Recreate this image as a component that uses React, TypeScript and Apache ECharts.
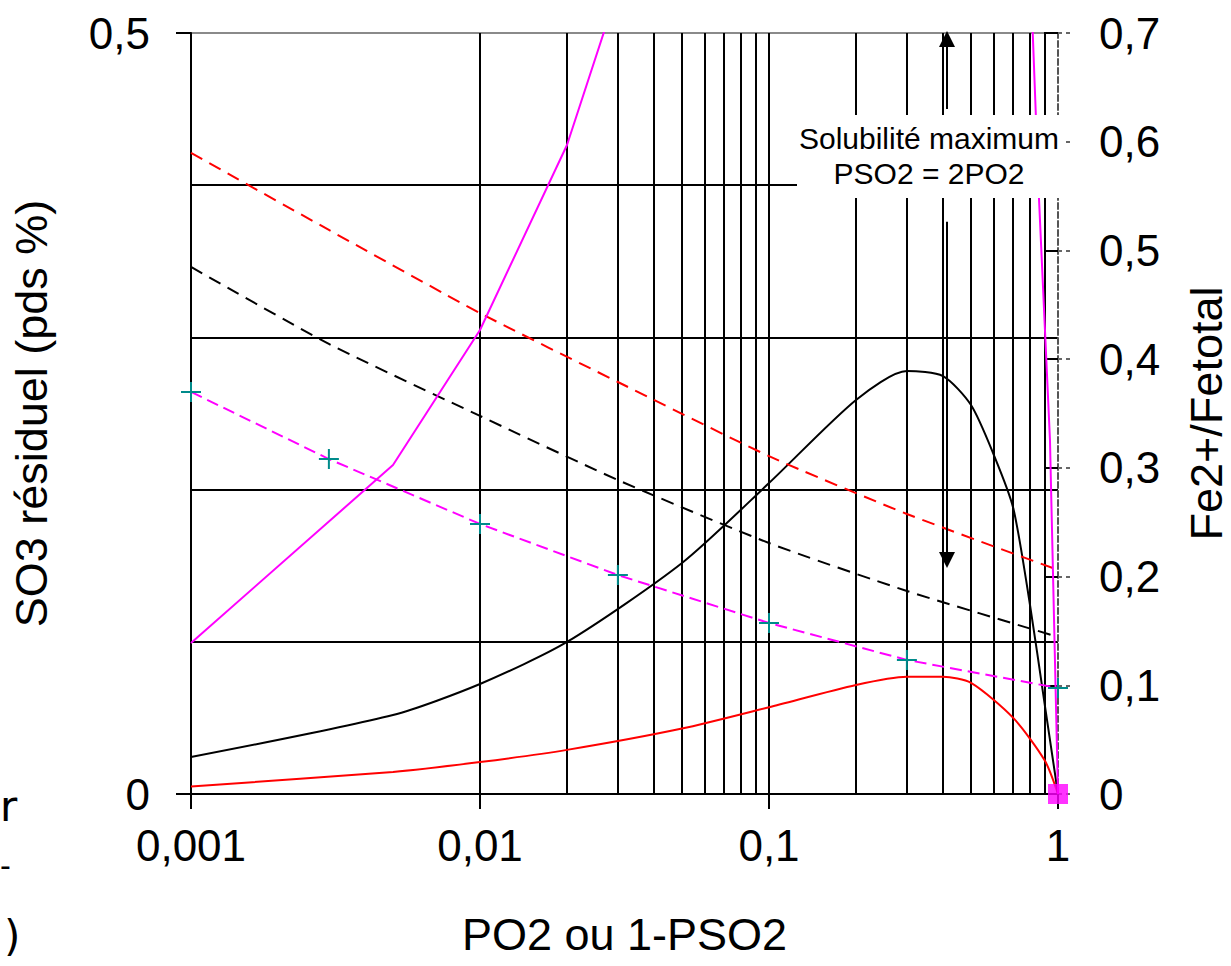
import React, { useEffect, useRef } from "react";
import * as echarts from "echarts";

const FONT = '"Liberation Sans", Arial, Helvetica, sans-serif';

// x tick labels (log axis 0.001 .. 1)
const xTickLabels = ["0,001", "0,01", "0,1", "1"];

// vertical grid lines of the log x axis
const xGridLines = [
  0.002, 0.003, 0.004, 0.005, 0.006, 0.007, 0.008, 0.009,
  0.01, 0.02, 0.03, 0.04, 0.05, 0.06, 0.07, 0.08, 0.09,
  0.1, 0.2, 0.3, 0.4, 0.5, 0.6, 0.7, 0.8, 0.9,
];

// SO3 residual (left axis) - solid red
const redSolidX = [0.001, 0.005, 0.01, 0.02, 0.05, 0.1, 0.2, 0.3, 0.4, 0.5, 0.7, 0.9, 1];
const redSolidY = [0.005, 0.0145, 0.021, 0.029, 0.043, 0.057, 0.0716, 0.077, 0.077, 0.073, 0.05, 0.022, 0];

// SO3 residual (left axis) - solid black
const blackSolidX = [0.001, 0.005, 0.01, 0.02, 0.05, 0.1, 0.2, 0.3, 0.4, 0.5, 0.6, 0.7, 0.8, 0.9, 1];
const blackSolidY = [0.0243, 0.0519, 0.0723, 0.0999, 0.1518, 0.2043, 0.2589, 0.2779, 0.2746, 0.2556, 0.2227, 0.1879, 0.1242, 0.0585, 0];

// dashed curves (left axis)
const dashX = [0.001, 0.003, 0.01, 0.03, 0.1, 0.3, 1];
const redDashY = [0.4212, 0.3706, 0.316, 0.2707, 0.222, 0.184, 0.1472];
const blackDashY = [0.3463, 0.2957, 0.2484, 0.2063, 0.1649, 0.1334, 0.1032];

// Fe2+/Fetotal (right axis)
const magentaDashY = [0.3698, 0.3081, 0.2484, 0.2014, 0.1573, 0.1233, 0.0975];
const magentaSolidX = [0.001, 0.005, 0.01, 0.02, 0.03];
const magentaSolidY = [0.1389, 0.3026, 0.4268, 0.597, 0.74];
const magentaEndX = [0.815, 0.86, 0.938, 1];
const magentaEndY = [0.71, 0.546, 0.3256, 0];
const magentaSquare = [[1, 0]];

// annotation arrows (x, left-axis value)
const arrowX = 0.413;
const arrowUp = [0.45, 0.496];
const arrowDown = [0.376, 0.1537];

const zip = (xs: number[], ys: number[]) => xs.map((x, i) => [x, ys[i]]);
const fmt = (v: number) => String(Math.round(v * 1000) / 1000).replace(".", ",");

const plusPath = "path://M0,9 L20,9 L20,11 L0,11 Z M9,0 L11,0 L11,20 L9,20 Z";

export default function App() {
  const ref = useRef<HTMLDivElement>(null);
  useEffect(() => {
    const chart = echarts.init(ref.current!, null, { renderer: "svg" });
    const labelStyle = { fontSize: 44, color: "#000", fontFamily: FONT };
    const nameStyle = { fontSize: 45, color: "#000", fontFamily: FONT };
    const option: any = {
      animation: false,
      backgroundColor: "#fff",
      grid: {
        left: 191,
        right: 173,
        top: 33,
        bottom: 172,
        containLabel: false,
        outerBoundsMode: "none",
      },
      xAxis: {
        type: "log",
        logBase: 10,
        min: 0.001,
        max: 1,
        axisLine: { show: true, onZero: false, lineStyle: { color: "#000", width: 2 } },
        axisTick: { show: true, length: 15, lineStyle: { color: "#000", width: 2 } },
        axisLabel: {
          ...labelStyle,
          margin: 29,
          formatter: (v: number) => xTickLabels[Math.round(Math.log10(v)) + 3],
        },
        splitLine: { show: false },
        minorTick: { show: false },
        name: "PO2 ou 1-PSO2",
        nameLocation: "middle",
        nameGap: 118,
        nameTextStyle: nameStyle,
      },
      yAxis: [
        {
          type: "value",
          position: "left",
          min: 0,
          max: 0.5,
          interval: 0.5,
          axisLine: { show: true, onZero: false, lineStyle: { color: "#000", width: 2 } },
          axisTick: { show: true, length: 15, lineStyle: { color: "#000", width: 2 } },
          axisLabel: { ...labelStyle, margin: 41, formatter: fmt },
          splitLine: { show: true, lineStyle: { color: "#8a8a8a", width: 2 } },
          minorTick: { show: false, splitNumber: 5 },
          minorSplitLine: { show: true, lineStyle: { color: "#000", width: 2 } },
          name: "SO3 résiduel (pds %)",
          nameLocation: "middle",
          nameGap: 137,
          nameRotate: 90,
          nameTextStyle: nameStyle,
        },
        {
          type: "value",
          position: "right",
          min: 0,
          max: 0.7,
          interval: 0.1,
          axisLine: { show: true, onZero: false, lineStyle: { color: "#555", width: 2, type: [6, 3] } },
          axisTick: { show: true, inside: true, length: 14, lineStyle: { color: "#000", width: 2 } },
          axisLabel: { ...labelStyle, margin: 41, formatter: fmt },
          splitLine: { show: false },
          name: "Fe2+/Fetotal",
          nameLocation: "middle",
          nameGap: 126,
          nameRotate: 90,
          nameTextStyle: nameStyle,
        },
        {
          type: "value",
          position: "right",
          offset: 0,
          min: 0,
          max: 0.7,
          interval: 0.1,
          axisLine: { show: false },
          axisTick: { show: true, inside: false, length: 15, lineStyle: { color: "#666", width: 2, type: [4, 4] } },
          axisLabel: { show: false },
          splitLine: { show: false },
        },
      ],
      series: [
        {
          name: "grid",
          type: "line",
          data: [[0.001, 0]],
          showSymbol: false,
          silent: true,
          z: 1,
          lineStyle: { width: 0 },
          markLine: {
            z: 1,
            silent: true,
            symbol: "none",
            label: { show: false },
            lineStyle: { color: "#000", width: 2, type: "solid" },
            emphasis: { disabled: true },
            data: xGridLines.map((v) => ({ xAxis: v })),
          },
        },
        {
          name: "arrows",
          type: "line",
          data: [[0.001, 0]],
          showSymbol: false,
          silent: true,
          z: 4,
          lineStyle: { width: 0 },
          markLine: {
            z: 6,
            silent: true,
            symbol: ["none", "triangle"],
            symbolSize: 16,
            label: { show: false },
            lineStyle: { color: "#000", width: 2, type: "solid" },
            itemStyle: { color: "#000" },
            emphasis: { disabled: true },
            data: [
              [{ coord: [arrowX, arrowUp[0]] }, { coord: [arrowX, arrowUp[1]] }],
              [{ coord: [arrowX, arrowDown[0]] }, { coord: [arrowX, arrowDown[1]] }],
            ],
          },
        },
        {
          name: "SO3 rouge",
          type: "line",
          yAxisIndex: 0,
          data: zip(redSolidX, redSolidY),
          showSymbol: false,
          smooth: 0.25,
          z: 3,
          lineStyle: { color: "#ff0000", width: 2 },
        },
        {
          name: "SO3 noir",
          type: "line",
          yAxisIndex: 0,
          data: zip(blackSolidX, blackSolidY),
          showSymbol: false,
          smooth: 0.25,
          z: 3,
          lineStyle: { color: "#000", width: 2 },
        },
        {
          name: "rouge tirets",
          type: "line",
          yAxisIndex: 0,
          data: zip(dashX, redDashY),
          showSymbol: false,
          smooth: 0.2,
          z: 3,
          lineStyle: { color: "#ff0000", width: 2, type: [13, 8] },
        },
        {
          name: "noir tirets",
          type: "line",
          yAxisIndex: 0,
          data: zip(dashX, blackDashY),
          showSymbol: false,
          smooth: 0.2,
          z: 3,
          lineStyle: { color: "#000", width: 2, type: [13, 8] },
        },
        {
          name: "Fe magenta tirets",
          type: "line",
          yAxisIndex: 1,
          data: zip(dashX, magentaDashY),
          symbol: plusPath,
          symbolSize: 20,
          showSymbol: true,
          z: 3,
          itemStyle: { color: "#008b8b" },
          lineStyle: { color: "#ff00ff", width: 2, type: [12, 6] },
        },
        {
          name: "Fe magenta",
          type: "line",
          yAxisIndex: 1,
          data: zip(magentaSolidX, magentaSolidY),
          showSymbol: false,
          z: 3,
          lineStyle: { color: "#ff00ff", width: 2 },
        },
        {
          name: "Fe magenta fin",
          type: "line",
          yAxisIndex: 1,
          data: zip(magentaEndX, magentaEndY),
          showSymbol: false,
          z: 3,
          lineStyle: { color: "#ff00ff", width: 2 },
        },
        {
          name: "point",
          type: "scatter",
          yAxisIndex: 1,
          data: magentaSquare,
          symbol: "rect",
          symbolSize: 20,
          z: 5,
          itemStyle: { color: "#ff00ff" },
        },
      ],
      graphic: [
        {
          type: "rect",
          z: 100,
          shape: { x: 797, y: 115, width: 267, height: 83 },
          style: { fill: "#fff" },
        },
        {
          type: "text",
          z: 101,
          x: 929,
          y: 156,
          style: {
            text: "Solubilité maximum\nPSO2 = 2PO2",
            fontSize: 30,
            lineHeight: 35,
            fontFamily: FONT,
            fill: "#000",
            align: "center",
            verticalAlign: "middle",
          },
        },
        {
          type: "text",
          z: 101,
          x: 0,
          y: 806,
          style: { text: "r", fontSize: 42, fontFamily: '"DejaVu Sans", sans-serif', fill: "#000", align: "left", verticalAlign: "middle" },
        },
        {
          type: "text",
          z: 101,
          x: 0,
          y: 865,
          style: { text: "-", fontSize: 30, fontFamily: '"DejaVu Sans", sans-serif', fill: "#000", align: "left", verticalAlign: "middle" },
        },
        {
          type: "text",
          z: 101,
          x: 4,
          y: 936,
          style: { text: ")", fontSize: 42, fontFamily: '"DejaVu Sans", sans-serif', fill: "#000", align: "left", verticalAlign: "middle" },
        },
      ],
    };
    chart.setOption(option);
    return () => chart.dispose();
  }, []);
  return (
    <div
      ref={ref}
      style={{ position: "fixed", left: 0, top: 0, width: 1231, height: 966, background: "#fff" }}
    />
  );
}
